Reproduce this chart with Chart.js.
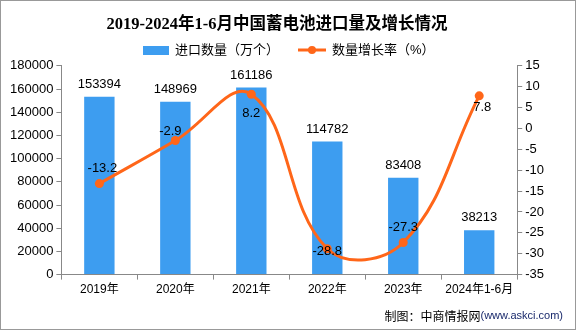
<!DOCTYPE html>
<html>
<head>
<meta charset="utf-8">
<script src="https://cdn.jsdelivr.net/npm/chart.js@4/dist/chart.umd.min.js"></script>
<style>
  html, body { margin: 0; padding: 0; background: #fff; }
  #wrap { width: 574px; height: 328px; border: 1px solid #999; position: relative; }
</style>
</head>
<body>
<div id="wrap"><canvas id="chart" width="574" height="328"></canvas></div>
<script>
// chart data
const categories = ['2019年', '2020年', '2021年', '2022年', '2023年', '2024年1-6月'];
const importVolume = [153394, 148969, 161186, 114782, 83408, 38213];
const growthRate = [-13.2, -2.9, 8.2, -28.8, -27.3, 7.8];
const seriesNames = ['进口数量（万个）', '数量增长率（%）'];

const BLUE = '#3d9df0';
const ORANGE = '#ff6619';
const FONT = '"Liberation Sans", "DejaVu Sans", "Noto Sans CJK SC", sans-serif';

// where each growth label sits relative to its point
const rateLabelOffset = [[3, -15], [-5, -9], [0, 19], [0, 3], [0, -15], [3, 12]];

const labelPlugin = {
  id: 'labels',
  afterDatasetsDraw(chart) {
    const ctx = chart.ctx;
    ctx.save();
    ctx.fillStyle = '#000';
    ctx.font = '13px ' + FONT;
    ctx.textAlign = 'center';
    ctx.textBaseline = 'bottom';
    chart.getDatasetMeta(1).data.forEach((bar, i) => {
      ctx.fillText(String(importVolume[i]), bar.x, bar.y - 6);
    });
    ctx.textBaseline = 'middle';
    chart.getDatasetMeta(0).data.forEach((pt, i) => {
      const o = rateLabelOffset[i];
      ctx.fillText(String(growthRate[i]), pt.x + o[0], pt.y + o[1]);
    });

    // legend
    const ly = 49;
    ctx.font = '13px ' + FONT;
    ctx.textAlign = 'left';
    ctx.fillStyle = BLUE;
    ctx.fillRect(142, ly - 4, 26, 9);
    ctx.fillStyle = '#000';
    ctx.fillText(seriesNames[0], 174, ly);
    ctx.strokeStyle = ORANGE;
    ctx.lineWidth = 3;
    ctx.beginPath();
    ctx.moveTo(297, ly);
    ctx.lineTo(325, ly);
    ctx.stroke();
    ctx.fillStyle = ORANGE;
    ctx.beginPath();
    ctx.arc(311, ly, 4, 0, Math.PI * 2);
    ctx.fill();
    ctx.fillStyle = '#000';
    ctx.fillText(seriesNames[1], 331, ly);

    // footer
    ctx.textAlign = 'right';
    const url = '(www.askci.com)';
    ctx.font = '11px ' + FONT;
    const uw = ctx.measureText(url).width;
    ctx.fillStyle = '#1a2a6c';
    ctx.fillText(url, 562, 315);
    ctx.fillStyle = '#000';
    ctx.font = '12px "Noto Sans CJK SC", sans-serif';
    ctx.fillText('制图：中商情报网', 562 - uw, 315);
    ctx.restore();
  }
};

new Chart(document.getElementById('chart'), {
  data: {
    labels: categories,
    datasets: [
      {
        type: 'line',
        label: seriesNames[1],
        data: growthRate,
        yAxisID: 'y2',
        borderColor: ORANGE,
        backgroundColor: ORANGE,
        borderWidth: 3,
        pointRadius: 4.5,
        pointBackgroundColor: ORANGE,
        pointBorderWidth: 0,
        tension: 0.4,
        order: 0
      },
      {
        type: 'bar',
        label: seriesNames[0],
        data: importVolume,
        yAxisID: 'y',
        backgroundColor: BLUE,
        categoryPercentage: 1,
        barPercentage: 0.4,
        order: 1
      }
    ]
  },
  options: {
    responsive: false,
    animation: false,
    layout: { padding: { left: 6, right: 28, top: 0, bottom: 29 } },
    plugins: {
      legend: { display: false },
      tooltip: { enabled: false },
      title: {
        display: true,
        text: '2019-2024年1-6月中国蓄电池进口量及增长情况',
        color: '#000',
        font: { family: '"Liberation Serif", "Noto Sans CJK SC", serif', size: 16.5, weight: 'bold' },
        padding: { top: 14, bottom: 31 }
      }
    },
    scales: {
      x: {
        offset: true,
        grid: { display: true, drawOnChartArea: false, offset: true, tickLength: 5, color: '#888' },
        border: { color: '#888' },
        ticks: { color: '#000', font: { family: FONT, size: 12 }, padding: 3, maxRotation: 0, autoSkip: false }
      },
      y: {
        position: 'left',
        min: 0,
        max: 180000,
        ticks: { stepSize: 20000, color: '#000', font: { family: FONT, size: 13 }, padding: 3, callback: v => String(v) },
        grid: { drawOnChartArea: false, tickLength: 5, color: '#888' },
        border: { color: '#888' }
      },
      y2: {
        position: 'right',
        min: -35,
        max: 15,
        ticks: { stepSize: 5, color: '#000', font: { family: FONT, size: 13 }, padding: 3, callback: v => String(v) },
        grid: { drawOnChartArea: false, tickLength: 5, color: '#888' },
        border: { color: '#888' }
      }
    }
  },
  plugins: [labelPlugin]
});
</script>
</body>
</html>
